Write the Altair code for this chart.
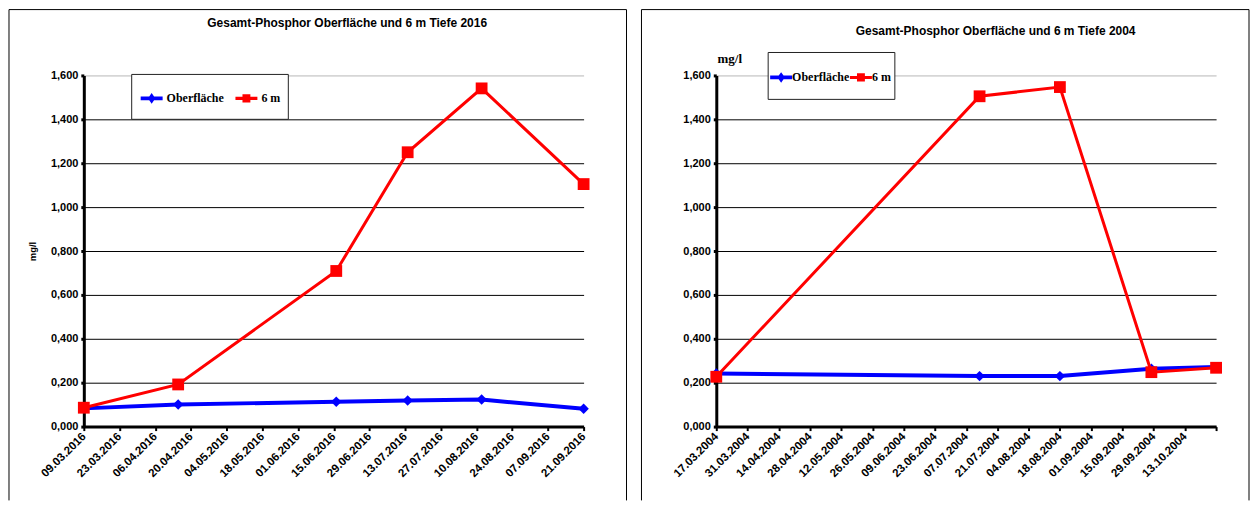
import altair as alt
import pandas as pd
from datetime import datetime, timezone

# ---------------- data ----------------
series_names = ["Oberfläche", "6 m"]
series_colors = ["#0000ff", "#ff0000"]

dates_2016 = ["2016-03-09", "2016-04-15", "2016-06-16", "2016-07-14", "2016-08-12", "2016-09-21"]
surface_2016 = [0.083, 0.101, 0.113, 0.119, 0.123, 0.081]
depth_2016 = [0.086, 0.192, 0.709, 1.250, 1.541, 1.105]

dates_2004 = ["2004-03-17", "2004-07-13", "2004-08-18", "2004-09-28", "2004-10-27"]
surface_2004 = [0.242, 0.230, 0.230, 0.264, 0.271]
depth_2004 = [0.227, 1.505, 1.547, 0.248, 0.268]

ticks_2016 = ["09.03.2016", "23.03.2016", "06.04.2016", "20.04.2016", "04.05.2016",
              "18.05.2016", "01.06.2016", "15.06.2016", "29.06.2016", "13.07.2016",
              "27.07.2016", "10.08.2016", "24.08.2016", "07.09.2016", "21.09.2016"]
domain_2016 = ["09.03.2016", "21.09.2016"]

ticks_2004 = ["17.03.2004", "31.03.2004", "14.04.2004", "28.04.2004", "12.05.2004",
              "26.05.2004", "09.06.2004", "23.06.2004", "07.07.2004", "21.07.2004",
              "04.08.2004", "18.08.2004", "01.09.2004", "15.09.2004", "29.09.2004",
              "13.10.2004"]
domain_2004 = ["17.03.2004", "27.10.2004"]

y_ticks = [0.0, 0.2, 0.4, 0.6, 0.8, 1.0, 1.2, 1.4, 1.6]

title_2016 = "Gesamt-Phosphor Oberfläche  und  6 m Tiefe 2016"
title_2004 = "Gesamt-Phosphor Oberfläche  und 6 m Tiefe 2004"
unit_label = "mg/l"

SANS = "Liberation Sans, Arial, sans-serif"
SERIF = "Liberation Serif, Times New Roman, serif"

blue_path = ("M-1,-0.17L-0.22,-0.17L0,-0.48L0.22,-0.17L1,-0.17L1,0.17"
             "L0.22,0.17L0,0.48L-0.22,0.17L-1,0.17Z")
red_path = ("M-1,-0.14L-0.36,-0.14L-0.36,-0.38L0.36,-0.38L0.36,-0.14L1,-0.14"
            "L1,0.14L0.36,0.14L0.36,0.38L-0.36,0.38L-0.36,0.14L-1,0.14Z")


def dt(s):
    d, m, y = s.split(".")
    return alt.DateTime(year=int(y), month=int(m), date=int(d), utc=True)


def ms(s):
    d, m, y = s.split(".")
    return int(datetime(int(y), int(m), int(d), tzinfo=timezone.utc).timestamp() * 1000)


one = pd.DataFrame({"k": [0]})


def panel(dates, surf, depth, ticks, dom, title, tpos, lpos, lbox, frame_x,
          col_pad, lab_off, left_title):
    n = len(dates)
    df = pd.DataFrame({
        "date": dates * 2,
        "series": [series_names[0]] * n + [series_names[1]] * n,
        "value": surf + depth,
    })
    tick_vals = [dt(t) for t in ticks]
    if ticks[-1] != dom[1]:
        tick_vals.append(dt(dom[1]))
    last = ms(ticks[-1])
    x_enc = alt.X(
        "date:T",
        scale=alt.Scale(type="utc", domain=[dt(dom[0]), dt(dom[1])], nice=False),
        axis=alt.Axis(
            values=tick_vals,
            labelExpr=f"datum.value > {last} ? '' : utcFormat(datum.value, '%d.%m.%Y')",
            labelAngle=315, labelAlign="right", labelBaseline="middle",
            labelFont=SANS, labelFontSize=11.5, labelFontWeight="bold", labelColor="black",
            labelOverlap=False, labelPadding=4,
            domainColor="black", domainWidth=3, tickColor="black", tickWidth=2, tickSize=4,
            grid=False, title=None,
        ),
    )
    if left_title:
        ytitle = dict(title=unit_label, titleFont=SANS, titleFontSize=9.5,
                      titleFontWeight="bold", titleColor="black", titlePadding=13)
    else:
        ytitle = dict(title=unit_label, titleFont=SERIF, titleFontSize=13,
                      titleFontWeight="bold", titleColor="black", titleAngle=0,
                      titleX=13, titleY=-17, titleAlign="center", titleBaseline="middle")
    yaxis = alt.Axis(
        **ytitle,
        values=y_ticks,
        labelExpr="replace(format(datum.value, '.3f'), '.', ',')",
        labelFont=SANS, labelFontSize=11, labelFontWeight="bold", labelColor="black",
        labelPadding=3,
        domainColor="black", domainWidth=3, tickColor="black", tickWidth=3, tickSize=3,
        grid=True, gridWidth=1,
        gridColor={"condition": {"test": "datum.value >= 1.6", "value": "#b8b8b8"}, "value": "black"},
    )
    y_enc = alt.Y("value:Q", scale=alt.Scale(domain=[0, 1.6], nice=False), axis=yaxis)

    base = alt.Chart(df)
    legend = alt.Legend(
        orient="none", legendX=lpos[0], legendY=lpos[1], direction="horizontal",
        title=None, labelFont=SERIF, labelFontSize=12, labelFontWeight="bold",
        labelColor="black", symbolSize=484, symbolOpacity=1, symbolStrokeWidth=0,
        columnPadding=col_pad, labelOffset=lab_off, padding=0,
    )
    layers = []
    # frame (top, left, right edges)
    x0, x1 = frame_x
    fy0, fy1 = -66, 426
    for a, b, c, d in [(x0, x1, fy0, fy0), (x0, x0, fy0, fy1), (x1, x1, fy0, fy1)]:
        layers.append(alt.Chart(one).mark_rule(color="black", strokeWidth=1).encode(
            x=alt.value(a), x2=alt.value(b), y=alt.value(c), y2=alt.value(d)))
    # legend box
    layers.append(alt.Chart(one).mark_rect(fill="white", stroke="#222222", strokeWidth=1).encode(
        x=alt.value(lbox[0]), x2=alt.value(lbox[1]), y=alt.value(lbox[2]), y2=alt.value(lbox[3])))
    # title
    layers.append(alt.Chart(pd.DataFrame({"t": [title]})).mark_text(
        font=SANS, fontSize=12, fontWeight="bold", color="black",
        align="center", baseline="middle").encode(
        text="t:N", x=alt.value(tpos[0]), y=alt.value(tpos[1])))
    # series
    blue = base.transform_filter(alt.datum.series == series_names[0])
    red = base.transform_filter(alt.datum.series == series_names[1])
    layers.append(blue.mark_line(color=series_colors[0], strokeWidth=4).encode(x=x_enc, y=y_enc))
    layers.append(blue.mark_point(shape="diamond", filled=True, size=110, opacity=1,
                                  color=series_colors[0]).encode(x=x_enc, y=y_enc))
    layers.append(red.mark_line(color=series_colors[1], strokeWidth=3).encode(x=x_enc, y=y_enc))
    layers.append(red.mark_point(shape="square", filled=True, size=140, opacity=1,
                                 color=series_colors[1]).encode(x=x_enc, y=y_enc))
    # legend-only layer
    layers.append(base.mark_point(filled=True, opacity=0).encode(
        x=x_enc, y=y_enc,
        color=alt.Color("series:N", scale=alt.Scale(domain=series_names, range=series_colors),
                        legend=legend),
        shape=alt.Shape("series:N", scale=alt.Scale(domain=series_names,
                                                    range=[blue_path, red_path]),
                        legend=legend),
    ))
    return alt.layer(*layers).properties(width=501, height=352)


left = panel(dates_2016, surface_2016, depth_2016, ticks_2016, domain_2016, title_2016,
             (264, -53), (57, 12), (48, 205, -1, 44), (-75, 544), 11, 4, True)
right = panel(dates_2004, surface_2004, depth_2004, ticks_2004, domain_2004, title_2004,
              (280, -45), (54, -9), (52, 179, -23, 24), (-75, 534), 0, 0, False)

chart = alt.hconcat(left, right, spacing=13).resolve_scale(
    x="independent", y="independent"
).resolve_legend(color="independent", shape="independent").properties(
    padding=0, background="white"
).configure_view(stroke=None)

chart.save("out.html", embed_options={"renderer": "svg", "actions": False})
